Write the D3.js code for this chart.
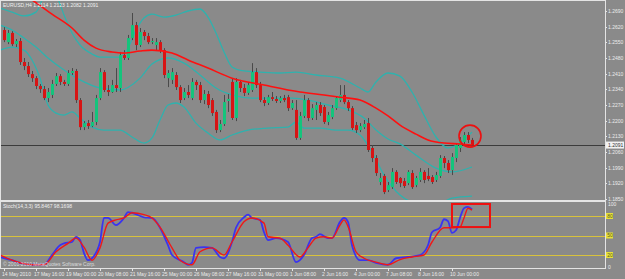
<!DOCTYPE html>
<html>
<head>
<meta charset="utf-8">
<script src="https://cdn.jsdelivr.net/npm/d3@7"></script>
<style>
  html, body { margin: 0; padding: 0; background: #8a8a8a; overflow: hidden; }
  svg { display: block; }
  text { font-family: "Liberation Sans", Arial, sans-serif; }
</style>
</head>
<body>
<svg id="chart" width="625" height="279"></svg>
<script>
// EURUSD H4, 14 May - 10 Jun 2010
const chartTitle = 'EURUSD,H4  1.2114 1.2123 1.2082 1.2091';
const stochTitle = 'Stoch(14,3,3) 95.8467 98.1698';
const copyright = '\u00a9 2001-2010 MetaQuotes Software Corp.';

const opens = [1.2605,1.2551,1.2592,1.2542,1.2556,1.2462,1.2444,1.2408,1.2390,1.2355,
  1.2341,1.2301,1.2315,1.2364,1.2399,1.2373,1.2364,1.2413,1.2422,1.2292,
  1.2171,1.2189,1.2176,1.2194,1.2301,1.2417,1.2337,1.2328,1.2359,1.2346,
  1.2493,1.2480,1.2569,1.2627,1.2538,1.2596,1.2578,1.2551,1.2538,1.2551,
  1.2515,1.2390,1.2382,1.2404,1.2350,1.2301,1.2328,1.2301,1.2373,1.2359,
  1.2292,1.2319,1.2292,1.2239,1.2158,1.2185,1.2288,1.2373,1.2212,1.2373,
  1.2346,1.2324,1.2337,1.2417,1.2359,1.2292,1.2279,1.2305,1.2297,1.2288,
  1.2301,1.2305,1.2256,1.2248,1.2123,1.2221,1.2292,1.2212,1.2248,1.2270,
  1.2261,1.2194,1.2216,1.2256,1.2292,1.2315,1.2283,1.2256,1.2180,1.2158,
  1.2171,1.2189,1.2078,1.2033,1.1926,1.1953,1.1890,1.1903,1.1971,1.1944,
  1.1930,1.1921,1.1966,1.1912,1.1935,1.1971,1.1953,1.1948,1.1935,1.1953,
  1.2033,1.2011,1.1979,1.2033,1.2078,1.2105,1.2136,1.2114];
const highs = [1.2618,1.2605,1.2600,1.2565,1.2569,1.2480,1.2462,1.2422,1.2399,1.2364,
  1.2355,1.2346,1.2382,1.2413,1.2408,1.2382,1.2426,1.2435,1.2431,1.2301,
  1.2198,1.2203,1.2239,1.2315,1.2435,1.2426,1.2359,1.2382,1.2435,1.2507,
  1.2515,1.2583,1.2681,1.2641,1.2614,1.2605,1.2592,1.2569,1.2569,1.2560,
  1.2524,1.2426,1.2435,1.2417,1.2359,1.2346,1.2359,1.2390,1.2382,1.2373,
  1.2337,1.2333,1.2301,1.2248,1.2203,1.2315,1.2319,1.2390,1.2390,1.2382,
  1.2364,1.2373,1.2457,1.2435,1.2373,1.2305,1.2315,1.2328,1.2310,1.2310,
  1.2315,1.2315,1.2292,1.2292,1.2239,1.2315,1.2301,1.2274,1.2283,1.2283,
  1.2270,1.2239,1.2270,1.2310,1.2359,1.2359,1.2292,1.2265,1.2194,1.2189,
  1.2203,1.2212,1.2091,1.2046,1.1966,1.1962,1.1926,1.1988,1.1979,1.1948,
  1.1944,1.1979,1.1979,1.1953,1.1988,1.1979,1.1988,1.1957,1.1971,1.2046,
  1.2042,1.2024,1.2055,1.2100,1.2127,1.2149,1.2149,1.2123];
const lows = [1.2551,1.2542,1.2533,1.2529,1.2449,1.2426,1.2395,1.2373,1.2341,1.2324,
  1.2292,1.2283,1.2301,1.2355,1.2359,1.2355,1.2355,1.2404,1.2279,1.2158,
  1.2158,1.2163,1.2171,1.2180,1.2292,1.2328,1.2310,1.2324,1.2328,1.2328,
  1.2471,1.2471,1.2560,1.2515,1.2529,1.2560,1.2542,1.2542,1.2515,1.2502,
  1.2390,1.2350,1.2364,1.2337,1.2279,1.2292,1.2301,1.2292,1.2337,1.2279,
  1.2274,1.2256,1.2221,1.2145,1.2149,1.2176,1.2239,1.2203,1.2198,1.2328,
  1.2310,1.2315,1.2328,1.2346,1.2283,1.2265,1.2270,1.2288,1.2279,1.2279,
  1.2283,1.2243,1.2248,1.2114,1.2114,1.2212,1.2198,1.2203,1.2203,1.2221,
  1.2185,1.2180,1.2207,1.2248,1.2283,1.2274,1.2243,1.2158,1.2145,1.2149,
  1.2163,1.2060,1.2015,1.1953,1.1912,1.1872,1.1881,1.1895,1.1917,1.1903,
  1.1899,1.1912,1.1895,1.1903,1.1926,1.1921,1.1930,1.1917,1.1926,1.1944,
  1.1988,1.1966,1.1957,1.2015,1.2060,1.2087,1.2100,1.2082];
const closes = [1.2560,1.2592,1.2542,1.2556,1.2462,1.2444,1.2408,1.2390,1.2355,1.2341,
  1.2301,1.2328,1.2364,1.2399,1.2373,1.2364,1.2413,1.2422,1.2292,1.2171,
  1.2189,1.2176,1.2194,1.2301,1.2417,1.2337,1.2328,1.2359,1.2346,1.2493,
  1.2480,1.2569,1.2627,1.2538,1.2596,1.2578,1.2551,1.2556,1.2551,1.2515,
  1.2404,1.2413,1.2417,1.2350,1.2292,1.2328,1.2315,1.2373,1.2359,1.2292,
  1.2319,1.2270,1.2234,1.2158,1.2185,1.2283,1.2297,1.2212,1.2373,1.2346,
  1.2324,1.2359,1.2417,1.2359,1.2292,1.2279,1.2305,1.2297,1.2288,1.2301,
  1.2292,1.2256,1.2279,1.2123,1.2221,1.2292,1.2212,1.2256,1.2270,1.2234,
  1.2194,1.2225,1.2256,1.2301,1.2315,1.2283,1.2256,1.2167,1.2158,1.2176,
  1.2185,1.2069,1.2033,1.1966,1.1944,1.1881,1.1912,1.1971,1.1926,1.1921,
  1.1908,1.1971,1.1903,1.1944,1.1971,1.1935,1.1939,1.1926,1.1957,1.2033,
  1.2011,1.1979,1.2038,1.2091,1.2114,1.2136,1.2114,1.2091];

// indicator lines: [bar, value]
const bbUpper = [[-1,1.2703],[2,1.2685],[5,1.2668],[8,1.2685],[10,1.2757],[12,1.2793],[14,1.2721],
  [15,1.2672],[17,1.2592],[19,1.2538],[22,1.2498],[24,1.2484],[29,1.2484],[31,1.2524],[33,1.2605],
  [35,1.2659],[37,1.2676],[40,1.2663],[43,1.2672],[46,1.2690],[49,1.2699],[51,1.2663],[53,1.2592],
  [55,1.2507],[57,1.2440],[60,1.2422],[64,1.2417],[69,1.2413],[73,1.2417],[78,1.2404],[84,1.2390],
  [89,1.2346],[91,1.2328],[93,1.2373],[96,1.2413],[99,1.2399],[102,1.2328],[105,1.2225],
  [108,1.2127],[111,1.2078],[114,1.2100],[117,1.2149]];
const bbMiddle = [[-1,1.2627],[2,1.2605],[5,1.2569],[8,1.2529],[11,1.2480],[15,1.2426],[19,1.2382],
  [24,1.2346],[29,1.2337],[34,1.2390],[37,1.2453],[41,1.2480],[45,1.2457],[49,1.2404],[53,1.2346],
  [57,1.2315],[62,1.2301],[66,1.2301],[72,1.2301],[77,1.2288],[81,1.2270],[86,1.2248],[90,1.2212],
  [93,1.2158],[96,1.2118],[99,1.2096],[103,1.2046],[108,1.1988],[112,1.1971],[117,1.1993]];
const bbLower = [[-1,1.2515],[2,1.2529],[5,1.2515],[7,1.2471],[9,1.2390],[11,1.2270],[13,1.2234],
  [15,1.2225],[17,1.2239],[19,1.2212],[22,1.2171],[25,1.2158],[29,1.2158],[32,1.2127],[35,1.2100],
  [37,1.2123],[39,1.2203],[41,1.2270],[43,1.2279],[45,1.2261],[48,1.2189],[51,1.2145],[54,1.2114],
  [57,1.2136],[61,1.2158],[66,1.2167],[71,1.2171],[73,1.2194],[75,1.2167],[79,1.2167],[83,1.2158],
  [86,1.2158],[89,1.2136],[92,1.2060],[95,1.1957],[99,1.1868],[103,1.1832],[108,1.1823],
  [112,1.1854],[117,1.1863]];
const maRed = [[-1,1.2806],[7,1.2739],[12,1.2676],[17,1.2614],[20,1.2560],[23,1.2524],[27,1.2507],
  [30,1.2502],[34,1.2511],[37,1.2515],[42,1.2502],[46,1.2471],[51,1.2435],[57,1.2390],[65,1.2359],
  [74,1.2328],[80,1.2315],[84,1.2305],[89,1.2292],[93,1.2256],[96,1.2221],[99,1.2180],[103,1.2140],
  [106,1.2114],[110,1.2100],[114,1.2096],[117,1.2091]];

const stochK = [[-1,17],[2,12],[4,8],[7,5],[10,5],[12,20],[14,35],[15,38],[17,40],[18,48],[19,43],
  [20,23],[21,12],[22,15],[24,40],[25,77],[26,77],[28,66],[30,77],[31,86],[32,85],[35,78],[37,77],
  [39,62],[41,35],[42,20],[45,9],[46,5],[47,8],[48,31],[50,32],[52,31],[54,17],[55,15],[57,40],
  [58,62],[60,78],[61,82],[62,77],[64,74],[65,55],[66,43],[68,46],[71,40],[73,9],[75,20],[77,46],
  [78,48],[79,52],[81,46],[82,46],[84,71],[85,77],[86,71],[87,35],[89,12],[91,12],[93,8],[96,5],
  [98,15],[101,17],[104,20],[106,35],[107,55],[109,62],[110,75],[111,72],[112,54],[113,58],
  [114,77],[115,92],[116,94],[117,90]];
const stochD = [[-1,20],[2,12],[4,8],[7,5],[10,5],[13,25],[16,38],[18,46],[20,32],[22,12],[24,31],
  [26,69],[28,74],[30,77],[32,85],[35,82],[37,77],[39,63],[42,31],[44,12],[47,5],[49,25],[52,31],
  [55,20],[57,40],[60,71],[62,77],[65,69],[66,48],[69,46],[71,35],[74,17],[76,31],[78,46],[80,48],
  [82,46],[84,66],[85,74],[86,64],[88,25],[90,15],[93,9],[96,5],[99,13],[102,17],[105,20],[107,40],
  [110,62],[112,62],[114,63],[115,77],[116,92],[117,89]];
const stochLevels = [80, 50, 20];

const priceTicks = [1.2690,1.2620,1.2550,1.2480,1.2410,1.2340,1.2270,1.2200,1.2130,1.2060,1.1990,1.1920,1.1850];
const lastPrice = 1.2091;
const timeBars = [0,8,16,24,32,40,48,56,64,72,80,88,96,104,112];
const timeLabels = ['14 May 2010','17 May 16:00','19 May 00:00','20 May 08:00','21 May 16:00',
  '25 May 00:00','26 May 08:00','27 May 16:00','31 May 00:00','1 Jun 08:00','2 Jun 16:00',
  '4 Jun 00:00','7 Jun 08:00','8 Jun 16:00','10 Jun 00:00'];

// marks drawn by hand on the screenshot
const circleBar = 116.5, circlePrice = 1.2131;
const boxBars = [112, 121.5], boxStoch = [98.5, 63];

const W = 625, H = 279;
const axisX = 605;
const svg = d3.select('#chart');

svg.append('rect').attr('width', W).attr('height', H).attr('fill', '#8a8a8a');

const x = d3.scaleLinear().domain([0, 117]).range([4, 472]);
const y = d3.scaleLinear().domain([1.1850, 1.2690]).range([199, 11]);
const ys = d3.scaleLinear().domain([0, 100]).range([268, 203]);

const defs = svg.append('defs');
defs.append('clipPath').attr('id', 'clipMain')
  .append('rect').attr('x', 1).attr('y', 1).attr('width', axisX - 1).attr('height', 199);
defs.append('clipPath').attr('id', 'clipSub')
  .append('rect').attr('x', 1).attr('y', 202).attr('width', axisX - 1).attr('height', 66);

const main = svg.append('g').attr('clip-path', 'url(#clipMain)');
const sub = svg.append('g').attr('clip-path', 'url(#clipSub)');

// current price line
main.append('line')
  .attr('x1', 1).attr('x2', axisX)
  .attr('y1', Math.round(y(lastPrice)) + 0.5).attr('y2', Math.round(y(lastPrice)) + 0.5)
  .attr('stroke', '#3c3c3c').attr('stroke-width', 1);

const priceLine = d3.line().x(d => x(d[0])).y(d => y(d[1])).curve(d3.curveMonotoneX);

[bbUpper, bbMiddle, bbLower].forEach(band => {
  main.append('path').datum(band)
    .attr('d', priceLine)
    .attr('fill', 'none').attr('stroke', '#2eb2ae').attr('stroke-width', 1.3);
});

// candles
const bars = d3.range(opens.length);
main.append('g').selectAll('line').data(bars).enter().append('line')
  .attr('x1', i => x(i) + 0.5).attr('x2', i => x(i) + 0.5)
  .attr('y1', i => y(highs[i])).attr('y2', i => y(lows[i]))
  .attr('stroke', '#4a4a4a').attr('stroke-width', 1);
main.append('g').selectAll('rect').data(bars).enter().append('rect')
  .attr('x', i => x(i) - 1)
  .attr('width', 3)
  .attr('y', i => y(Math.max(opens[i], closes[i])))
  .attr('height', i => Math.max(1, Math.abs(y(opens[i]) - y(closes[i]))))
  .attr('fill', i => closes[i] >= opens[i] ? '#14c47c' : '#d81414');

main.append('path').datum(maRed)
  .attr('d', priceLine)
  .attr('fill', 'none').attr('stroke', '#ff1010').attr('stroke-width', 1.6);

main.append('circle')
  .attr('cx', x(circleBar)).attr('cy', y(circlePrice)).attr('r', 11)
  .attr('fill', 'none').attr('stroke', '#ee1010').attr('stroke-width', 1.6);

// stochastic window
sub.selectAll('line.level').data(stochLevels).enter().append('line')
  .attr('class', 'level')
  .attr('x1', 1).attr('x2', axisX)
  .attr('y1', d => Math.round(ys(d)) + 0.5).attr('y2', d => Math.round(ys(d)) + 0.5)
  .attr('stroke', '#d8c23c').attr('stroke-width', 1);

const stochLine = d3.line().x(d => x(d[0])).y(d => ys(d[1])).curve(d3.curveMonotoneX);
sub.append('path').datum(stochK).attr('d', stochLine)
  .attr('fill', 'none').attr('stroke', '#3a34f0').attr('stroke-width', 1.8);
sub.append('path').datum(stochD).attr('d', stochLine)
  .attr('fill', 'none').attr('stroke', '#f01818').attr('stroke-width', 1.4);

sub.append('rect')
  .attr('x', x(boxBars[0])).attr('y', ys(boxStoch[0]))
  .attr('width', x(boxBars[1]) - x(boxBars[0]))
  .attr('height', ys(boxStoch[1]) - ys(boxStoch[0]))
  .attr('fill', 'none').attr('stroke', '#ee1010').attr('stroke-width', 2);

// frame
const frame = '#e4e4e4';
svg.append('line').attr('x1', 0).attr('x2', axisX).attr('y1', 0.5).attr('y2', 0.5).attr('stroke', frame);
svg.append('line').attr('x1', 0.5).attr('x2', 0.5).attr('y1', 0).attr('y2', 269).attr('stroke', frame);
svg.append('line').attr('x1', axisX + 0.5).attr('x2', axisX + 0.5).attr('y1', 0).attr('y2', 269).attr('stroke', frame);
svg.append('rect').attr('x', 0).attr('y', 200).attr('width', axisX + 1).attr('height', 2).attr('fill', frame);
svg.append('line').attr('x1', 0).attr('x2', axisX).attr('y1', 268.5).attr('y2', 268.5).attr('stroke', frame);

const small = 5;
// price axis
const pAxis = svg.append('g');
pAxis.selectAll('line').data(priceTicks).enter().append('line')
  .attr('x1', axisX).attr('x2', axisX + 2)
  .attr('y1', d => Math.round(y(d)) + 0.5).attr('y2', d => Math.round(y(d)) + 0.5)
  .attr('stroke', frame);
pAxis.selectAll('text').data(priceTicks).enter().append('text')
  .attr('x', 608).attr('y', d => y(d) + 2)
  .attr('font-size', small).attr('fill', '#ececec')
  .text(d => d.toFixed(4));

svg.append('rect')
  .attr('x', 606).attr('y', y(lastPrice) - 3.5).attr('width', 18).attr('height', 7)
  .attr('fill', '#f2f2f2');
svg.append('text')
  .attr('x', 608).attr('y', y(lastPrice) + 2)
  .attr('font-size', small).attr('fill', '#303030')
  .text(lastPrice.toFixed(4));

// stochastic axis
svg.append('text').attr('x', 608).attr('y', ys(100) + 2.5)
  .attr('font-size', small).attr('fill', '#ececec').text('100');
svg.append('text').attr('x', 608).attr('y', ys(0) + 0.5)
  .attr('font-size', small).attr('fill', '#ececec').text('0');
const lv = svg.append('g');
lv.selectAll('rect').data(stochLevels).enter().append('rect')
  .attr('x', 606).attr('y', d => ys(d) - 3).attr('width', 7).attr('height', 6)
  .attr('fill', '#e6e03c');
lv.selectAll('text').data(stochLevels).enter().append('text')
  .attr('x', 607.2).attr('y', d => ys(d) + 1.8)
  .attr('font-size', small).attr('fill', '#5a5a20')
  .text(d => d);

// time axis
const tAxis = svg.append('g');
tAxis.selectAll('line').data(timeBars).enter().append('line')
  .attr('x1', b => Math.round(x(b)) + 0.5).attr('x2', b => Math.round(x(b)) + 0.5)
  .attr('y1', 268).attr('y2', 271)
  .attr('stroke', frame);
tAxis.selectAll('text').data(timeBars).enter().append('text')
  .attr('x', b => x(b) - 2).attr('y', 276)
  .attr('font-size', small).attr('fill', '#ececec')
  .text((b, i) => timeLabels[i]);

// captions
svg.append('text').attr('x', 3).attr('y', 7)
  .attr('font-size', small).attr('fill', '#f0f0f0').text(chartTitle);
svg.append('text').attr('x', 3).attr('y', 208)
  .attr('font-size', small).attr('fill', '#f0f0f0').text(stochTitle);
svg.append('text').attr('x', 3).attr('y', 266)
  .attr('font-size', small).attr('fill', '#dcdcdc').text(copyright);
</script>
</body>
</html>
